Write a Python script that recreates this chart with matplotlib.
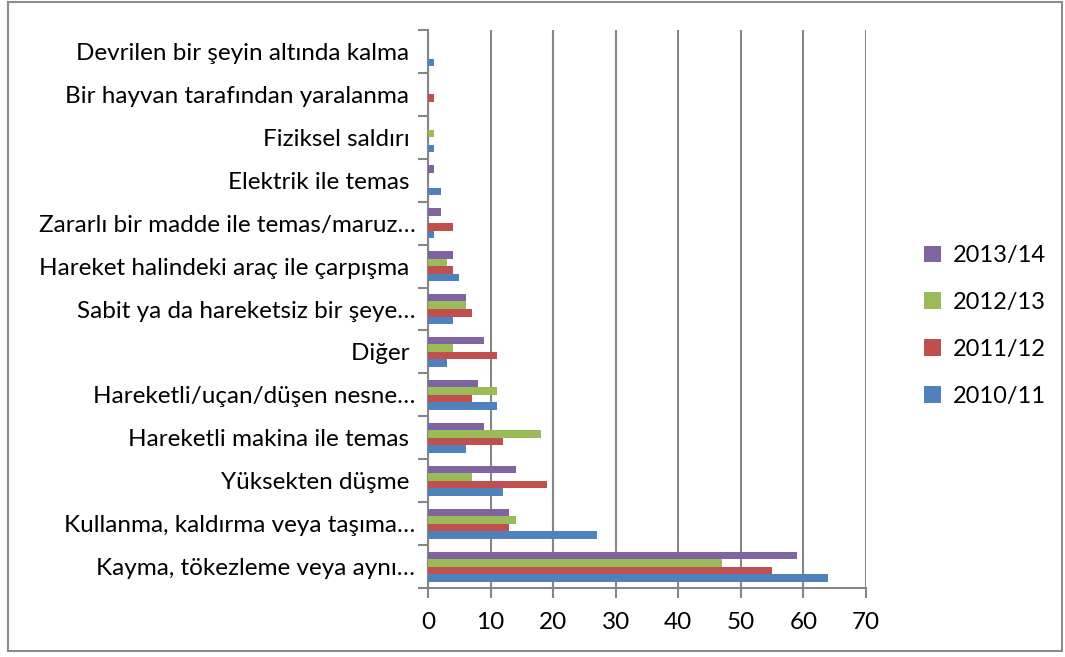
import matplotlib
matplotlib.use("Agg")
import matplotlib.pyplot as plt
from matplotlib.patches import Rectangle
import numpy as np

plt.rcParams['font.family'] = ['Lato', 'DejaVu Sans']

categories = [
    "Devrilen bir şeyin altında kalma ",
    "Bir hayvan tarafından yaralanma ",
    "Fiziksel saldırı ",
    "Elektrik ile temas ",
    "Zararlı bir madde ile temas/maruz…",
    "Hareket halindeki araç ile çarpışma ",
    "Sabit ya da hareketsiz bir şeye…",
    "Diğer ",
    "Hareketli/uçan/düşen nesne…",
    "Hareketli makina ile temas ",
    "Yüksekten düşme ",
    "Kullanma, kaldırma veya taşıma…",
    "Kayma, tökezleme veya aynı…",
]
series_names = ["2010/11", "2011/12", "2012/13", "2013/14"]
v2010_11 = [1, 0, 1, 2, 1, 5, 4, 3, 11, 6, 12, 27, 64]
v2011_12 = [0, 1, 0, 0, 4, 4, 7, 11, 7, 12, 19, 13, 55]
v2012_13 = [0, 0, 1, 0, 0, 3, 6, 4, 11, 18, 7, 14, 47]
v2013_14 = [0, 0, 0, 1, 2, 4, 6, 9, 8, 9, 14, 13, 59]
xticks = [0, 10, 20, 30, 40, 50, 60, 70]

colors = ["#4F81BD", "#C0504D", "#9BBB59", "#8064A2"]

fig = plt.figure(figsize=(10.65, 6.57), dpi=100)
ax = fig.add_axes([428/1065, 1-588/657, (866-428)/1065, (588-30)/657])

y = np.arange(len(categories))
h = 0.175
offsets = [1.5*h, 0.5*h, -0.5*h, -1.5*h]
data = [v2010_11, v2011_12, v2012_13, v2013_14]
handles = []
for vals, off, c, name in zip(data, offsets, colors, series_names):
    b = ax.barh(y + off, vals, height=h, color=c, linewidth=0, label=name, zorder=3)
    handles.append(b)

ax.set_xlim(0, 70)
ax.set_ylim(len(categories) - 0.5, -0.5)
ax.set_xticks(xticks)
ax.set_xticklabels([str(t) for t in xticks], fontsize=17.5)
ax.set_yticks(y)
ax.set_yticklabels(categories, fontsize=17.5)
ax.set_yticks(np.arange(-0.5, len(categories)), minor=True)
ax.tick_params(axis='y', which='major', length=0, pad=9)
ax.tick_params(axis='y', which='minor', length=7, width=1.5, color='#868686', direction='out')
ax.tick_params(axis='x', which='major', length=7, width=1.5, color='#868686', direction='out', pad=10)

ax.grid(axis='x', color='#868686', linewidth=1.5, zorder=0)
ax.set_axisbelow(True)
for s in ['top', 'right']:
    ax.spines[s].set_visible(False)
for s in ['left', 'bottom']:
    ax.spines[s].set_color('#868686')
    ax.spines[s].set_linewidth(1.5)

leg = fig.legend(handles[::-1], series_names[::-1], loc='center left',
                 bbox_to_anchor=(903/1065, 1-326/657), frameon=False, fontsize=17,
                 handlelength=0.7, handleheight=0.7, handletextpad=0.5,
                 labelspacing=1.1)
for p in leg.get_patches():
    p.set_edgecolor('none')

fig.patches.append(Rectangle((8/1065, 1-651/657), (1062-8)/1065, (651-2)/657,
                             transform=fig.transFigure, fill=False,
                             edgecolor='#8C8C8C', linewidth=1.5))

fig.savefig("out.png", dpi=100)
